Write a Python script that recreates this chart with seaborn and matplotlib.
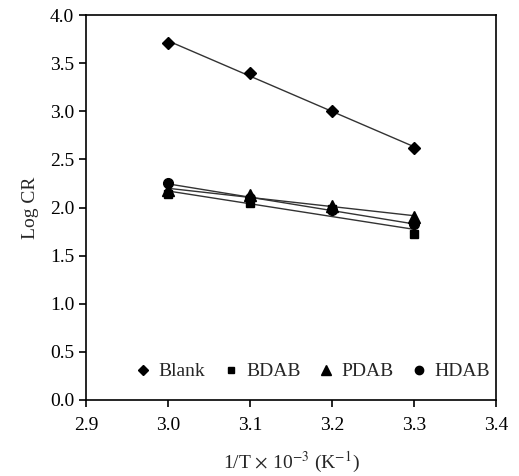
import numpy as np
import pandas as pd
import matplotlib
matplotlib.use("Agg")
import matplotlib.pyplot as plt
import seaborn as sns
from matplotlib.lines import Line2D

inv_T = [3.0, 3.1, 3.2, 3.3]
blank = [3.71, 3.40, 3.00, 2.62]
bdab = [2.14, 2.05, 1.98, 1.72]
pdab = [2.18, 2.13, 2.02, 1.90]
hdab = [2.25, 2.10, 1.97, 1.83]
series_names = ["Blank", "BDAB", "PDAB", "HDAB"]
markers = ["D", "s", "^", "o"]
msizes = [6, 6, 8, 7]

sns.set_style("ticks")
plt.rcParams['font.family'] = ['Liberation Serif', 'DejaVu Serif']
plt.rcParams['mathtext.fontset'] = 'stix'

fig = plt.figure(figsize=(5.19, 4.76), dpi=100)
ax = fig.add_axes([0.166, 0.160, 0.790, 0.808])

handles = []
for name, vals, m, ms in zip(series_names, [blank, bdab, pdab, hdab], markers, msizes):
    df = pd.DataFrame({"x": inv_T, "y": vals})
    sns.regplot(data=df, x="x", y="y", ax=ax, ci=None, scatter=False,
                line_kws={"color": "#333333", "lw": 1.0}, truncate=True)
    ax.plot(df["x"], df["y"], linestyle="none", marker=m, markersize=ms,
            color="black", zorder=3)
    handles.append(Line2D([], [], linestyle="none", marker=m, markersize=ms - 1,
                          color="black", label=name))

ax.set_xlim(2.9, 3.4)
ax.set_ylim(0, 4.0)
ax.set_xticks(np.arange(2.9, 3.41, 0.1))
ax.set_yticks(np.arange(0, 4.01, 0.5))
ax.xaxis.set_major_formatter(matplotlib.ticker.FormatStrFormatter('%.1f'))
ax.yaxis.set_major_formatter(matplotlib.ticker.FormatStrFormatter('%.1f'))
ax.tick_params(direction="out", length=5, width=1.2, labelsize=14, colors="black")
ax.tick_params(axis="x", pad=7)
for s in ax.spines.values():
    s.set_linewidth(1.2)
    s.set_color("black")
ax.set_xlabel(r"1/T $\times$ 10$^{-3}$ (K$^{-1}$)", fontsize=14, labelpad=12)
ax.set_ylabel("Log CR", fontsize=14, labelpad=8)

ax.legend(handles=handles, loc="lower center", bbox_to_anchor=(0.55, 0.005), ncol=4,
          frameon=False, fontsize=14, handletextpad=0.3, columnspacing=0.8,
          handlelength=1.0)

fig.savefig("out.png", dpi=100)
